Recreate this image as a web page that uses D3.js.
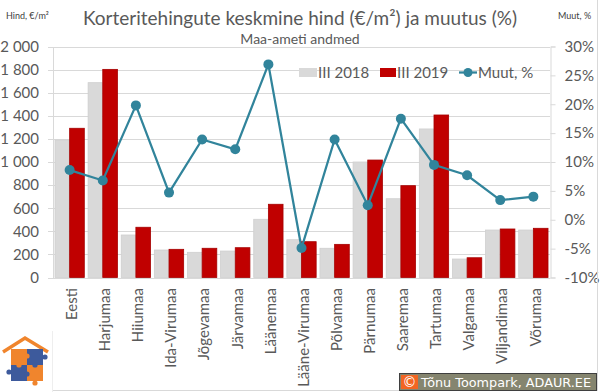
<!DOCTYPE html>
<html>
<head>
<meta charset="utf-8">
<script src="https://cdn.jsdelivr.net/npm/d3@7"></script>
<style>
  body { margin: 0; background: #fff; }
  svg { display: block; font-family: Lato, "Liberation Sans", sans-serif; }
</style>
</head>
<body>
<svg id="chart" width="600" height="392"></svg>
<script>
const categories = ['Eesti', 'Harjumaa', 'Hiiumaa', 'Ida-Virumaa', 'Jõgevamaa', 'Järvamaa', 'Läänemaa',
    'Lääne-Virumaa', 'Põlvamaa', 'Pärnumaa', 'Saaremaa', 'Tartumaa', 'Valgamaa', 'Viljandimaa', 'Võrumaa'];
const price2018 = [1190, 1687, 368, 238, 218, 229, 504, 327, 253, 1000, 682, 1286, 160, 411, 411];
const price2019 = [1292, 1802, 435, 244, 253, 258, 634, 310, 287, 1017, 795, 1407, 171, 420, 426];
const changePct = [8.6, 6.8, 19.8, 4.7, 13.9, 12.2, 26.9, -4.9, 13.9, 2.5, 17.5, 9.5, 7.7, 3.4, 4.0];
const leftTicks = [0, 200, 400, 600, 800, 1000, 1200, 1400, 1600, 1800, 2000];
const rightTicks = [-10, -5, 0, 5, 10, 15, 20, 25, 30];
const seriesNames = ['III 2018', 'III 2019', 'Muut, %'];

const textCol = '#595959';
const gridCol = '#d9d9d9';
const grayFill = '#d9d9d9';
const redFill = '#c00000';
const lineCol = '#31849b';

const svg = d3.select('#chart');
const plot = { left: 53, right: 550, top: 46.5, bottom: 277.5 };

const x = d3.scaleBand()
    .domain(categories)
    .range([plot.left, plot.right])
    .paddingInner(0.115)
    .paddingOuter(0.06);
const xSub = d3.scaleBand()
    .domain([0, 1])
    .range([0, x.bandwidth()]);
const y = d3.scaleLinear().domain([0, 2000]).range([plot.bottom, plot.top]);
const yPct = d3.scaleLinear().domain([-10, 30]).range([plot.bottom, plot.top]);

// grid
svg.append('g')
    .selectAll('line')
    .data(leftTicks)
    .join('line')
    .attr('x1', plot.left - 5)
    .attr('x2', plot.right)
    .attr('y1', d => Math.round(y(d)) + 0.5)
    .attr('y2', d => Math.round(y(d)) + 0.5)
    .attr('stroke', gridCol);

// left axis
const yAxis = d3.axisLeft(y)
    .tickValues(leftTicks)
    .tickSize(0)
    .tickPadding(14)
    .tickFormat(d => d3.format(',')(d).replace(',', ' '));
const gy = svg.append('g')
    .attr('transform', `translate(${plot.left},0)`)
    .call(yAxis);
gy.select('.domain').attr('stroke', gridCol);
gy.selectAll('text').attr('fill', textCol).attr('font-size', 15).attr('font-family', 'Lato');

// right axis
const yAxisR = d3.axisRight(yPct)
    .tickValues(rightTicks)
    .tickSize(5)
    .tickPadding(9)
    .tickFormat(d => d + '%');
const gr = svg.append('g')
    .attr('transform', `translate(${plot.right + 0.5},0)`)
    .call(yAxisR);
gr.select('.domain').attr('stroke', gridCol);
gr.selectAll('line').attr('stroke', gridCol);
gr.selectAll('text').attr('fill', textCol).attr('font-size', 15).attr('font-family', 'Lato');

// bottom axis
const xAxis = d3.axisBottom(x).tickSize(0).tickPadding(0);
const gx = svg.append('g')
    .attr('transform', `translate(0,${plot.bottom + 0.5})`)
    .call(xAxis);
gx.select('.domain').attr('stroke', gridCol);
gx.selectAll('text')
    .attr('fill', textCol)
    .attr('font-size', 15)
    .attr('font-family', 'Lato')
    .attr('text-anchor', 'end')
    .attr('transform', 'translate(2,10) rotate(-90)')
    .attr('dy', '0.35em')
    .attr('y', 0)
    .attr('x', 0);

// bars
const groups = svg.append('g')
    .selectAll('g')
    .data(categories)
    .join('g')
    .attr('transform', d => `translate(${x(d)},0)`);

groups.append('rect')
    .attr('x', xSub(0))
    .attr('width', xSub.bandwidth() - 0.5)
    .attr('y', (d, i) => y(price2018[i]))
    .attr('height', (d, i) => y(0) - y(price2018[i]))
    .attr('fill', grayFill)
    .attr('stroke', '#cfcfcf')
    .attr('stroke-width', 0.8);

groups.append('rect')
    .attr('x', xSub(1))
    .attr('width', xSub.bandwidth())
    .attr('y', (d, i) => y(price2019[i]))
    .attr('height', (d, i) => y(0) - y(price2019[i]))
    .attr('fill', redFill)
    .attr('stroke', '#a50000')
    .attr('stroke-width', 0.8);

// change line
const cx = d => x(d) + x.bandwidth() / 2;
const line = d3.line()
    .x((d, i) => cx(categories[i]))
    .y(d => yPct(d));

svg.append('path')
    .datum(changePct)
    .attr('d', line)
    .attr('fill', 'none')
    .attr('stroke', lineCol)
    .attr('stroke-width', 2.25);

svg.append('g')
    .selectAll('circle')
    .data(changePct)
    .join('circle')
    .attr('cx', (d, i) => cx(categories[i]))
    .attr('cy', d => yPct(d))
    .attr('r', 5)
    .attr('fill', lineCol);

// titles
svg.append('text')
    .attr('x', 300)
    .attr('y', 25)
    .attr('text-anchor', 'middle')
    .attr('font-size', 19)
    .attr('fill', textCol)
    .text('Korteritehingute keskmine hind (€/m²) ja muutus (%)');

svg.append('text')
    .attr('x', 300)
    .attr('y', 44)
    .attr('text-anchor', 'middle')
    .attr('font-size', 14)
    .attr('fill', textCol)
    .text('Maa-ameti andmed');

svg.append('text')
    .attr('x', 6)
    .attr('y', 19)
    .attr('font-size', 9)
    .attr('fill', '#404040')
    .text('Hind, €/m²');

svg.append('text')
    .attr('x', 558)
    .attr('y', 19)
    .attr('font-size', 9)
    .attr('fill', '#404040')
    .text('Muut, %');

// legend
const legend = svg.append('g').attr('font-size', 15).attr('fill', textCol);
legend.append('rect').attr('x', 299).attr('y', 68).attr('width', 18).attr('height', 9).attr('fill', grayFill);
legend.append('text').attr('x', 318).attr('y', 77.5).text(seriesNames[0]);
legend.append('rect').attr('x', 380).attr('y', 68).attr('width', 16).attr('height', 9).attr('fill', redFill);
legend.append('text').attr('x', 397).attr('y', 77.5).text(seriesNames[1]);
legend.append('line').attr('x1', 459).attr('x2', 477).attr('y1', 72.5).attr('y2', 72.5)
    .attr('stroke', lineCol).attr('stroke-width', 2.25);
legend.append('circle').attr('cx', 468).attr('cy', 72.5).attr('r', 4.5).attr('fill', lineCol);
legend.append('text').attr('x', 478).attr('y', 77.5).text(seriesNames[2]);

// frame (right and bottom edges)
svg.append('path')
    .attr('d', 'M597.5,0V390.5H0')
    .attr('fill', 'none')
    .attr('stroke', gridCol);

// logo
const logo = svg.append('g');
logo.append('rect').attr('x', 0).attr('y', 331).attr('width', 52).attr('height', 61).attr('fill', '#fff');
logo.append('path')
    .attr('d', 'M3,352 L25,338 L48,352')
    .attr('fill', 'none')
    .attr('stroke', '#f0852d')
    .attr('stroke-width', 3.5);
const pieces = [
    { px: 11, py: 349, c: '#f0852d' },
    { px: 27, py: 349, c: '#3d5a9c' },
    { px: 11, py: 365, c: '#3d5a9c' },
    { px: 27, py: 365, c: '#f0852d' }
];
logo.selectAll('rect.piece')
    .data(pieces)
    .join('rect')
    .attr('class', 'piece')
    .attr('x', d => d.px)
    .attr('y', d => d.py)
    .attr('width', 16)
    .attr('height', 16)
    .attr('fill', d => d.c);
const knobs = [
    { kx: 27, ky: 356, c: '#f0852d' },
    { kx: 19, ky: 365, c: '#f0852d' },
    { kx: 35, ky: 365, c: '#3d5a9c' },
    { kx: 27, ky: 374, c: '#3d5a9c' },
    { kx: 9, ky: 372, c: '#3d5a9c' },
    { kx: 45, ky: 357, c: '#3d5a9c' },
    { kx: 35, ky: 383, c: '#f0852d' }
];
logo.selectAll('circle')
    .data(knobs)
    .join('circle')
    .attr('cx', d => d.kx)
    .attr('cy', d => d.ky)
    .attr('r', 2.6)
    .attr('fill', d => d.c);
logo.append('line').attr('x1', 52.5).attr('x2', 52.5).attr('y1', 331).attr('y2', 392).attr('stroke', '#eeeeee');

// copyright badge
const badge = svg.append('g');
badge.append('rect').attr('x', 399.5).attr('y', 373.5).attr('width', 197).attr('height', 17)
    .attr('fill', '#85856f').attr('stroke', '#3f3f3f');
badge.append('rect').attr('x', 401).attr('y', 375).attr('width', 17).attr('height', 14).attr('fill', '#f26522');
badge.append('text').attr('x', 409.5).attr('y', 387).attr('text-anchor', 'middle')
    .attr('font-size', 14).attr('fill', '#fff').attr('font-family', 'DejaVu Sans').text('©');
badge.append('text').attr('x', 421).attr('y', 387)
    .attr('font-size', 13).attr('fill', '#fff').attr('font-family', 'DejaVu Sans')
    .attr('textLength', 170).attr('lengthAdjust', 'spacingAndGlyphs')
    .text('Tõnu Toompark, ADAUR.EE');
</script>
</body>
</html>
